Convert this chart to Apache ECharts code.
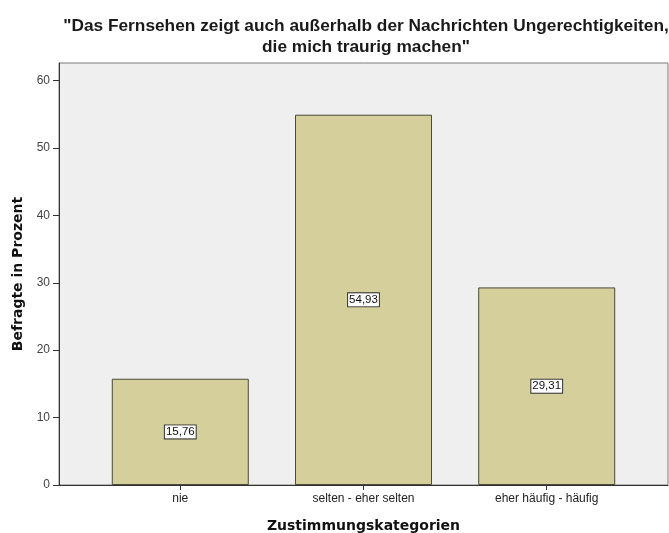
<!DOCTYPE html>
<html>
<head>
<meta charset="utf-8">
<script src="https://cdn.jsdelivr.net/npm/echarts@6/dist/echarts.min.js"></script>
<style>
html,body{margin:0;padding:0;background:#fff;}
#c{width:669px;height:533px;}
</style>
</head>
<body>
<div id="c"></div>
<script>
const categories = ['nie', 'selten - eher selten', 'eher häufig - häufig'];
const values = [15.76, 54.93, 29.31];
const yTicks = [0, 10, 20, 30, 40, 50, 60];
const titleText = '"Das Fernsehen zeigt auch außerhalb der Nachrichten Ungerechtigkeiten,\ndie mich traurig machen"';

const chart = echarts.init(document.getElementById('c'), null, {renderer: 'canvas'});
const font = 'Liberation Sans, Arial, sans-serif';
const nameFont = 'DejaVu Sans, Verdana, sans-serif';
chart.setOption({
  animation: false,
  backgroundColor: '#ffffff',
  title: {
    text: titleText,
    left: 361,
    top: 11,
    textAlign: 'center',
    textStyle: {fontFamily: font, fontSize: 17.3, fontWeight: 'bold', color: '#1a1a1a', lineHeight: 21}
  },
  grid: {
    left: 59, right: 1, top: 63, bottom: 48,
    containLabel: false, outerBoundsMode: 'none',
    show: true, backgroundColor: '#efefef', borderColor: '#7a7a7a', borderWidth: 1
  },
  xAxis: {
    type: 'value',
    min: 0.338, max: 3.662,
    name: 'Zustimmungskategorien',
    nameLocation: 'middle',
    nameGap: 34,
    nameTextStyle: {fontFamily: nameFont, fontSize: 14, fontWeight: 'bold', color: '#111'},
    splitLine: {show: false},
    axisLine: {show: true, lineStyle: {color: '#333', width: 1}},
    axisTick: {show: true, customValues: [1, 2, 3], length: 5, lineStyle: {color: '#333'}},
    axisLabel: {
      customValues: [1, 2, 3],
      formatter: v => categories[Math.round(v) - 1],
      fontFamily: font, fontSize: 12, color: '#222', margin: 8
    }
  },
  yAxis: {
    type: 'value',
    min: 0, max: 62.6, interval: 10,
    name: 'Befragte in Prozent',
    nameLocation: 'middle',
    nameGap: 34,
    nameTextStyle: {fontFamily: nameFont, fontSize: 14, fontWeight: 'bold', color: '#111'},
    splitLine: {show: false},
    axisLine: {show: true, lineStyle: {color: '#333', width: 1}},
    axisTick: {show: true, customValues: yTicks, length: 6, lineStyle: {color: '#333'}},
    axisLabel: {
      customValues: yTicks,
      fontFamily: font, fontSize: 12, color: '#444', margin: 9
    }
  },
  series: [{
    type: 'bar',
    barWidth: 137,
    data: categories.map((c, i) => [i + 1, values[i]]),
    itemStyle: {color: '#d4cf9b', borderColor: '#4a4a3a', borderWidth: 1},
    label: {
      show: true,
      position: 'inside',
      formatter: p => p.value[1].toFixed(2).replace('.', ','),
      fontFamily: font, fontSize: 11.5, color: '#111',
      backgroundColor: '#ffffff', borderColor: '#333', borderWidth: 1,
      padding: [1, 1, 0, 1]
    }
  }]
});
</script>
</body>
</html>
